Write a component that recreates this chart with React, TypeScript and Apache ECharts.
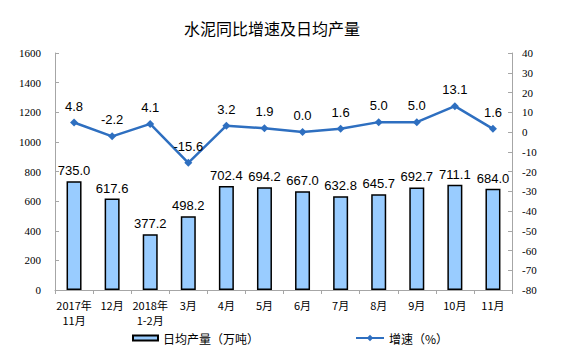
import React, { useEffect, useRef } from "react";
import * as echarts from "echarts";

const categories = ["2017年\n11月", "12月", "2018年\n1-2月", "3月", "4月", "5月", "6月", "7月", "8月", "9月", "10月", "11月"];
const dailyOutput = [735.0, 617.6, 377.2, 498.2, 702.4, 694.2, 667.0, 632.8, 645.7, 692.7, 711.1, 684.0];
const growth = [4.8, -2.2, 4.1, -15.6, 3.2, 1.9, 0.0, 1.6, 5.0, 5.0, 13.1, 1.6];
const barName = "日均产量（万吨）";
const lineName = "增速（%）";
const titleText = "水泥同比增速及日均产量";

export default function App() {
  const ref = useRef<HTMLDivElement>(null);
  useEffect(() => {
    if (!ref.current) return;
    const chart = echarts.init(ref.current, undefined, { renderer: "svg" });
    const axisLine = { show: true, lineStyle: { color: "#a6a6a6", width: 1 } };
    const tickLabel = { color: "#000", fontFamily: "Liberation Serif", fontSize: 11, formatter: (v: number) => String(v) };
    chart.setOption({
      animation: false,
      backgroundColor: "#fff",
      title: {
        text: titleText,
        left: 267,
        top: 15,
        textAlign: "center",
        textStyle: { fontFamily: "Noto Sans CJK SC", fontSize: 16, fontWeight: "normal", color: "#000" },
      },
      legend: [
        {
          data: [{ name: barName, icon: "rect" }],
          left: 127,
          top: 327,
          itemWidth: 25,
          itemHeight: 5,
          itemGap: 5,
          textStyle: { fontFamily: "Noto Sans CJK SC", fontSize: 12, color: "#000" },
        },
        {
          data: [{ name: lineName }],
          left: 350,
          top: 327,
          itemWidth: 28,
          itemHeight: 8,
          textStyle: { fontFamily: "Noto Sans CJK SC", fontSize: 12, color: "#000" },
        },
      ],
      grid: { left: 55, right: 63, top: 53, bottom: 61, containLabel: false },
      xAxis: {
        type: "category",
        data: categories,
        axisLine,
        axisTick: { show: true, alignWithLabel: false, length: 4, lineStyle: { color: "#a6a6a6" } },
        axisLabel: { color: "#000", fontFamily: "Noto Sans CJK SC", fontSize: 11, lineHeight: 15, margin: 7, interval: 0 },
      },
      yAxis: [
        {
          type: "value",
          min: 0,
          max: 1600,
          interval: 200,
          position: "left",
          axisLine,
          axisTick: { show: true, inside: true, length: 4, lineStyle: { color: "#a6a6a6" } },
          axisLabel: { ...tickLabel, margin: 14 },
          splitLine: { show: false },
        },
        {
          type: "value",
          min: -80,
          max: 40,
          interval: 10,
          position: "right",
          axisLine,
          axisTick: { show: true, inside: true, length: 4, lineStyle: { color: "#a6a6a6" } },
          axisLabel: { ...tickLabel, margin: 10 },
          splitLine: { show: false },
        },
      ],
      series: [
        {
          name: barName,
          type: "bar",
          data: dailyOutput,
          yAxisIndex: 0,
          barWidth: 15,
          itemStyle: { color: "#99ccff", borderColor: "#000", borderWidth: 1.5 },
          label: {
            show: true,
            position: "top",
            distance: 4,
            formatter: (p: any) => Number(p.value).toFixed(1),
            fontFamily: "Liberation Sans",
            fontSize: 13,
            color: "#000",
          },
        },
        {
          name: lineName,
          type: "line",
          data: growth,
          yAxisIndex: 1,
          symbol: "diamond",
          symbolSize: 8,
          lineStyle: { color: "#2e6fc0", width: 2.5 },
          itemStyle: { color: "#2e6fc0" },
          label: {
            show: true,
            position: "top",
            distance: 6,
            formatter: (p: any) => Number(p.value).toFixed(1),
            fontFamily: "Liberation Sans",
            fontSize: 13,
            color: "#000",
          },
          z: 5,
        },
      ],
    });
    return () => chart.dispose();
  }, []);
  return <div ref={ref} style={{ width: 575, height: 351, position: "absolute", left: 0, top: 0 }} />;
}
